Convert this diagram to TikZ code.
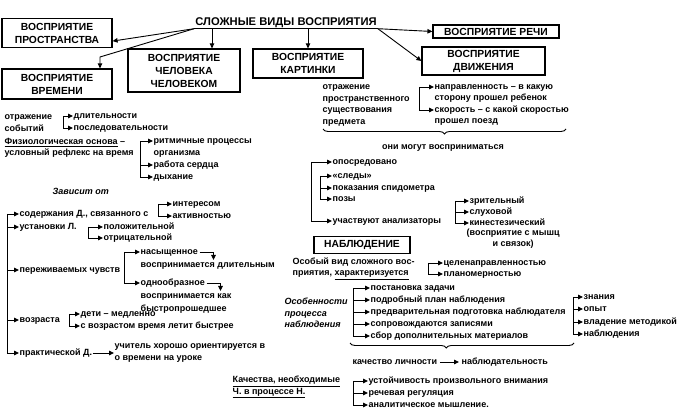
\documentclass[tikz,border=0pt]{standalone}
\usepackage{fontspec}
\setmainfont{Liberation Sans}
\usetikzlibrary{arrows.meta,decorations.pathreplacing,calc}
\newcommand\tx{\fontsize{9}{11.5}\selectfont\bfseries}
\newcommand\bx{\fontsize{10.3}{13}\selectfont\bfseries}
\newcommand\ttl{\fontsize{11.2}{13}\selectfont\bfseries}
\tikzset{
  txt/.style={font=\tx, inner sep=0.5pt, text height=6.4pt, text depth=1.8pt, anchor=west},
  mtxt/.style={font=\tx, inner sep=0.5pt, anchor=west, align=left},
  itxt/.style={txt, font=\tx\itshape},
  box/.style={draw, line width=1.2pt, font=\bx, align=center, inner sep=1pt},
  ln/.style={line width=0.9pt},
  arr/.style={ln, -{Triangle[length=5pt,width=4.5pt]}},
  brc/.style={ln, decorate, decoration={brace, mirror, amplitude=5pt}}
}
\begin{document}
\begin{tikzpicture}[x=1pt,y=-1pt]
\fill[white] (0,0) rectangle (680,411);
\useasboundingbox (0,0) rectangle (680,411);

% title and boxes
\node[font=\ttl, inner xsep=1pt, inner ysep=2.5pt, text height=8pt, text depth=0pt] (title) at (286,22) {СЛОЖНЫЕ ВИДЫ ВОСПРИЯТИЯ};
\draw[ln] (title.south west) -- (title.south east);
\node[box, minimum width=110pt, minimum height=29pt] (b1) at (57,33) {ВОСПРИЯТИЕ\\ПРОСТРАНСТВА};
\node[box, minimum width=110pt, minimum height=30pt] (b2) at (57,84) {ВОСПРИЯТИЕ\\ВРЕМЕНИ};
\node[box, minimum width=112pt, minimum height=43pt] (b3) at (184,70.5) {ВОСПРИЯТИЕ\\ЧЕЛОВЕКА\\ЧЕЛОВЕКОМ};
\node[box, minimum width=110pt, minimum height=29pt] (b4) at (308,63.5) {ВОСПРИЯТИЕ\\КАРТИНКИ};
\node[box, minimum width=126pt, minimum height=13pt] (b5) at (496,31.5) {ВОСПРИЯТИЕ РЕЧИ};
\node[box, minimum width=123pt, minimum height=28pt] (b6) at (483.5,61) {ВОСПРИЯТИЕ\\ДВИЖЕНИЯ};

\draw[arr] (title.south west) -- ($(b1.south east)+(0,-7)$);
\coordinate (k2) at (100,57);
\draw[arr] (title.south west) -- (k2) -- (k2 |- b2.north);
\coordinate (k3) at (212,30);
\draw[arr] (k3 |- title.south) -- (k3 |- b3.north);
\draw[arr] (b4.north |- title.south) -- (b4.north);
\draw[arr] (title.south east) -- (b5.west);
\draw[arr] (title.south east) -- (b6.west);

% ---- left column: time
\node[mtxt] (otr) at (4,123) {отражение\\событий};
\node[txt] (dl) at (73,116) {длительности};
\node[txt] (pos) at (73,128) {последовательности};
\coordinate (xA) at (63,0);
\draw[ln] (dl.west -| xA) -- (pos.west -| xA);
\foreach \n in {dl,pos} \draw[arr] (\n.west -| xA) -- (\n.west);

\node[mtxt] (fiz) at (4,148) {\underline{Физиологическая основа} –\\условный рефлекс на время};
\node[txt] (r1) at (153,141) {ритмичные процессы};
\node[txt] (r1b) at (153,153) {организма};
\node[txt] (r2) at (153,165) {работа сердца};
\node[txt] (r3) at (153,177) {дыхание};
\coordinate (xB) at (140,0);
\draw[ln] (r1.west -| xB) -- (r3.west -| xB);
\foreach \n in {r1,r2,r3} \draw[arr] (\n.west -| xB) -- (\n.west);

\node[itxt] (zav) at (52,192) {Зависит от};
\node[txt] (s1) at (19,214) {содержания Д., связанного с};
\node[txt] (int) at (172,204) {интересом};
\node[txt] (akt) at (172,216) {активностью};
\coordinate (xC) at (158,0);
\draw[ln] (int.west -| xC) -- (akt.west -| xC);
\foreach \n in {int,akt} \draw[arr] (\n.west -| xC) -- (\n.west);

\node[txt] (s2) at (19,227) {установки Л.};
\node[txt] (pol) at (103,227) {положительной};
\node[txt] (otc) at (103,238) {отрицательной};
\coordinate (xD) at (88,0);
\draw[ln] (pol.west -| xD) -- (otc.west -| xD);
\foreach \n in {pol,otc} \draw[arr] (\n.west -| xD) -- (\n.west);

\node[txt] (s3) at (19,270) {переживаемых чувств};
\node[txt] (nas) at (140,252) {насыщенное};
\node[txt] (vd) at (140,265) {воспринимается длительным};
\node[txt] (odn) at (140,283) {однообразное};
\node[txt] (vk) at (140,296) {воспринимается как};
\node[txt] (bp) at (140,309) {быстропрошедшее};
\coordinate (xE) at (124,0);
\draw[ln] (nas.west -| xE) -- (odn.west -| xE);
\foreach \n in {nas,odn} \draw[arr] (\n.west -| xE) -- (\n.west);
\draw[arr] ([xshift=1pt]nas.east) -- ++(14,0) -- ++(0,8);
\draw[arr] ([xshift=1pt]odn.east) -- ++(14,0) -- ++(0,8);

\node[txt] (s4) at (19,320) {возраста};
\node[txt] (dm) at (80,314) {дети – медленно};
\node[txt] (sv) at (80,326) {с возрастом время летит быстрее};
\coordinate (xF) at (69,0);
\draw[ln] (dm.west -| xF) -- (sv.west -| xF);
\foreach \n in {dm,sv} \draw[arr] (\n.west -| xF) -- (\n.west);

\node[txt] (s5) at (19,353) {практической Д.};
\node[mtxt] (uch) at (114,353) {учитель хорошо ориентируется в\\о времени на уроке};
\draw[arr] (s5.east) -- (uch.west);

\coordinate (xL) at (7,0);
\draw[ln] (s1.west -| xL) -- (s5.west -| xL);
\foreach \n in {s1,s2,s3,s4,s5} \draw[arr] (\n.west -| xL) -- (\n.west);

% ---- middle: pictures / motion
\node[mtxt] (otp) at (322,105.5) {отражение\\пространственного\\существования\\предмета};
\node[txt] (n1) at (434,87) {направленность – в какую};
\node[txt] (n2) at (434,98.5) {сторону прошел ребенок};
\node[txt] (n3) at (434,110) {скорость – с какой скоростью};
\node[txt] (n4) at (434,121.5) {прошел поезд};
\coordinate (xG) at (419,0);
\draw[ln] (n1.west -| xG) -- (n3.west -| xG);
\foreach \n in {n1,n3} \draw[arr] (\n.west -| xG) -- (\n.west);

\draw[brc] (323,129) -- (566,129);
\node[txt, anchor=center] (omv) at (443,147) {они могут восприниматься};

\node[txt] (opo) at (332,162) {опосредовано};
\node[txt] (sle) at (332,176) {«следы»};
\node[txt] (pok) at (332,188) {показания спидометра};
\node[txt] (poz) at (332,199) {позы};
\node[txt] (uan) at (332,221) {участвуют анализаторы};
\coordinate (xH) at (311,0);
\draw[ln] (opo.west -| xH) -- (uan.west -| xH);
\foreach \n in {opo,uan} \draw[arr] (\n.west -| xH) -- (\n.west);
\coordinate (xI) at (320,0);
\draw[ln] (sle.west -| xI) -- (poz.west -| xI);
\foreach \n in {sle,pok,poz} \draw[arr] (\n.west -| xI) -- (\n.west);

\node[txt] (zr) at (469,201) {зрительный};
\node[txt] (slu) at (469,212) {слуховой};
\node[txt] (kin) at (469,223) {кинестезический};
\node[mtxt, align=center, anchor=north west] (kin2) at (466,228) {(восприятие с мышц\\и связок)};
\coordinate (xJ) at (455,0);
\draw[ln] (zr.west -| xJ) -- (kin.west -| xJ);
\foreach \n in {zr,slu,kin} \draw[arr] (\n.west -| xJ) -- (\n.west);

% ---- observation
\node[box, minimum width=96pt, minimum height=17pt] (nab) at (362,245) {НАБЛЮДЕНИЕ};
\node[mtxt] (osv) at (292,268.5) {Особый вид сложного вос-\\приятия, \underline{характеризуется}};
\node[txt] (cel) at (443,263) {целенаправленностью};
\node[txt] (plm) at (443,274) {планомерностью};
\coordinate (xK) at (428,0);
\draw[ln] (cel.west -| xK) -- (plm.west -| xK);
\foreach \n in {cel,plm} \draw[arr] (\n.west -| xK) -- (\n.west);

\node[mtxt, font=\tx\itshape] (osp) at (284,313) {Особенности\\процесса\\наблюдения};
\node[txt] (p1) at (370,288) {постановка задачи};
\node[txt] (p2) at (370,300) {подробный план наблюдения};
\node[txt] (p3) at (370,312) {предварительная подготовка наблюдателя};
\node[txt] (p4) at (370,324) {сопровождаются записями};
\node[txt] (p5) at (370,336) {сбор дополнительных материалов};
\coordinate (xM) at (353,0);
\draw[ln] (p1.west -| xM) -- (p5.west -| xM);
\foreach \n in {p1,p2,p3,p4,p5} \draw[arr] (\n.west -| xM) -- (\n.west);

\node[txt] (zn) at (583,297) {знания};
\node[txt] (op) at (583,309) {опыт};
\node[txt] (vm) at (583,322) {владение методикой};
\node[txt] (nb) at (583,334) {наблюдения};
\coordinate (xN) at (573,0);
\draw[ln] (zn.west -| xN) -- (nb.west -| xN);
\foreach \n in {zn,op,vm,nb} \draw[arr] (\n.west -| xN) -- (\n.west);

\draw[brc, decoration={aspect=0.43}] (350,343) -- (574,343);
\node[txt] (kl) at (352,362) {качество личности};
\node[txt] (nbl) at (461,362) {наблюдательность};
\draw[arr] ([xshift=2pt]kl.east) -- ([xshift=-2pt]nbl.west);

\node[mtxt] (kach) at (232,387) {\underline{Качества, необходимые}\\\underline{Ч. в процессе Н.}};
\node[txt] (q1) at (368,381) {устойчивость произвольного внимания};
\node[txt] (q2) at (368,393) {речевая регуляция};
\node[txt] (q3) at (368,405) {аналитическое мышление.};
\coordinate (xQ) at (353,0);
\draw[ln] (q1.west -| xQ) -- (q3.west -| xQ);
\foreach \n in {q1,q2,q3} \draw[arr] (\n.west -| xQ) -- (\n.west);
\end{tikzpicture}
\end{document}
